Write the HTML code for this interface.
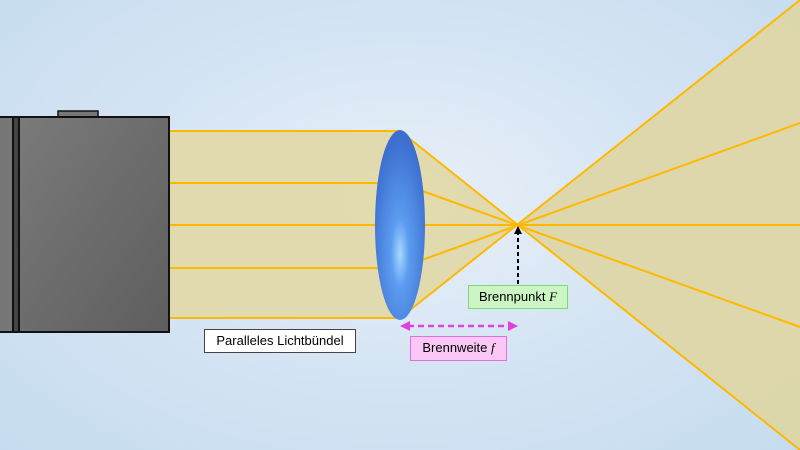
<!DOCTYPE html>
<html><head><style>
html,body{margin:0;padding:0}
body{width:800px;height:450px;overflow:hidden;background:radial-gradient(ellipse at 50% 45%,#e8f0f8 0%,#d3e3f3 55%,#c5dcf0 100%);font-family:"Liberation Sans",sans-serif}
.lbl{position:absolute;font-size:13px;line-height:22px;text-align:center;border:1px solid;box-sizing:border-box}
</style></head><body>
<svg width="800" height="450" style="position:absolute;left:0;top:0">
<defs>
<linearGradient id="cam" x1="0" y1="0" x2="1" y2="1"><stop offset="0" stop-color="#7a7a7a"/><stop offset="1" stop-color="#5e5e5e"/></linearGradient>
<radialGradient id="lens" cx="0.5" cy="0.65" r="0.6"><stop offset="0" stop-color="#a8d8ff"/><stop offset="0.3" stop-color="#5c9cf0"/><stop offset="1" stop-color="#3d6fd0"/></radialGradient>
</defs>
<rect x="169" y="131" width="231" height="187" fill="#e0d9aa" opacity="0.95"/>
<polygon points="400,131 518,225 400,318" fill="#e0d9aa" opacity="0.95"/>
<polygon points="518,225 800,0 800,450" fill="#ddd6a6" opacity="0.95"/>
<g stroke="#ffb800" stroke-width="2" fill="none">
<line x1="169" y1="131" x2="400" y2="131"/><line x1="169" y1="183" x2="400" y2="183"/><line x1="169" y1="225" x2="400" y2="225"/><line x1="169" y1="268" x2="400" y2="268"/><line x1="169" y1="318" x2="400" y2="318"/>
<line x1="400" y1="131" x2="800" y2="450"/><line x1="400" y1="183" x2="800" y2="327"/><line x1="400" y1="225" x2="800" y2="225"/><line x1="400" y1="268" x2="800" y2="123"/><line x1="400" y1="318" x2="800" y2="0"/>
</g>
<rect x="-2" y="117" width="15" height="215" fill="#777" stroke="#111" stroke-width="2"/>
<rect x="13" y="117" width="6" height="215" fill="#444" stroke="#111" stroke-width="2"/>
<rect x="58" y="111" width="40" height="6" fill="#777" stroke="#111" stroke-width="1.5"/>
<rect x="19" y="117" width="150" height="215" fill="url(#cam)" stroke="#111" stroke-width="2"/>
<ellipse cx="400" cy="225" rx="25" ry="95" fill="url(#lens)"/>
<line x1="518" y1="284" x2="518" y2="232" stroke="#000" stroke-width="2" stroke-dasharray="4,3"/>
<polygon points="518,226 514,234 522,234" fill="#000"/>
<line x1="408" y1="326" x2="510" y2="326" stroke="#e040e0" stroke-width="2.5" stroke-dasharray="6,4"/>
<polygon points="400,326 410,321 410,331" fill="#e040e0"/>
<polygon points="518,326 508,321 508,331" fill="#e040e0"/>
</svg>
<div class="lbl" style="left:204px;top:329px;width:152px;height:24px;background:#fff;border-color:#444">Paralleles Lichtbündel</div>
<div class="lbl" style="left:468px;top:285px;width:100px;height:24px;background:#ccf5c4;border-color:#7cd87c">Brennpunkt <i style="font-family:'Liberation Serif',serif">F</i></div>
<div class="lbl" style="left:410px;top:336px;width:97px;height:25px;background:#fbc8f5;border-color:#e070e0">Brennweite <i style="font-family:'Liberation Serif',serif">f</i></div>
</body></html>
